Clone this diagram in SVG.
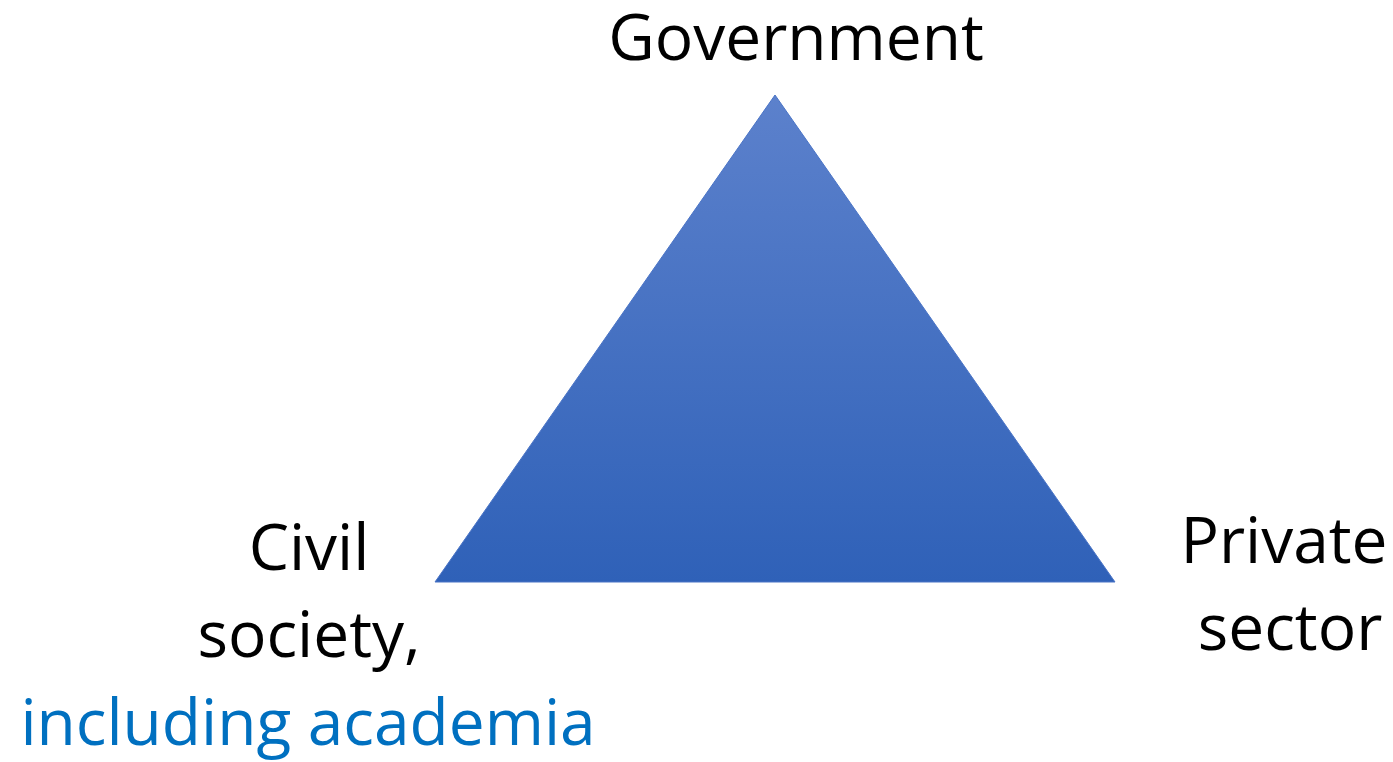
<svg xmlns="http://www.w3.org/2000/svg" width="1393" height="762" viewBox="0 0 1393 762">
<style>
.t{font-family:"Open Sans","Liberation Sans",sans-serif;font-size:64px;fill:#000;text-anchor:middle}
.b{fill:#0070C0}
</style>
<defs>
<linearGradient id="g" x1="0" y1="0" x2="0" y2="1">
<stop offset="0" stop-color="#5c81cc"/>
<stop offset="1" stop-color="#2f61b8"/>
</linearGradient>
</defs>
<rect width="1393" height="762" fill="#fff"/>
<g id="triangle">
<polygon points="775,95 1115,582 435,582" fill="url(#g)" stroke="#4a74c6" stroke-width="1"/>
</g>
<g id="government"><text class="t" x="796" y="60">Government</text></g>
<g id="civil-society">
<text class="t" x="309" y="570">Civil</text>
<text class="t" x="309" y="657">society,</text>
<text class="t b" x="308" y="745">including academia</text>
</g>
<g id="private-sector">
<text class="t" x="1284" y="563">Private</text>
<text class="t" x="1290" y="650">sector</text>
</g>
<g id="connectors"/>
</svg>
